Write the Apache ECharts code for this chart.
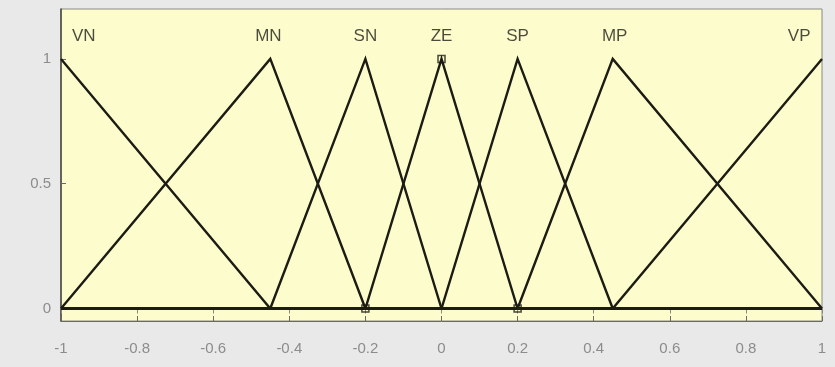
<!DOCTYPE html>
<html>
<head>
<meta charset="utf-8">
<script src="https://cdn.jsdelivr.net/npm/echarts@6/dist/echarts.min.js"></script>
<style>
  html, body { margin: 0; padding: 0; background: #e9e9e9; }
  #chart { width: 835px; height: 367px; }
</style>
</head>
<body>
<div id="chart"></div>
<script>
// Triangular membership functions over the universe [-1, 1]
const mfNames = ['VN', 'MN', 'SN', 'ZE', 'SP', 'MP', 'VP'];
const mfParams = [
  [-1.55, -1, -0.45],
  [-1, -0.45, -0.2],
  [-0.45, -0.2, 0],
  [-0.2, 0, 0.2],
  [0, 0.2, 0.45],
  [0.2, 0.45, 1],
  [0.45, 1, 1.55]
];
// Where each name is written above its peak
const labelX = [-0.94, -0.455, -0.2, 0, 0.2, 0.455, 0.94];
const labelY = 1.09;
// Small square markers on the plotted curves
const markerPoints = [[0, 1], [-0.2, 0], [0.2, 0]];
const xTicks = [-1, -0.8, -0.6, -0.4, -0.2, 0, 0.2, 0.4, 0.6, 0.8, 1];
const yTicks = [0, 0.5, 1];

// Evaluate a triangle on the universe: endpoints, corners and the zero baseline
function trimfPoints(p) {
  const [a, b, c] = p;
  const xs = [-1, a, b, c, 1].filter(v => v >= -1 && v <= 1);
  const uniq = Array.from(new Set(xs)).sort((u, v) => u - v);
  return uniq.map(x => {
    let y;
    if (x <= a || x >= c) y = (x === b) ? 1 : 0;
    else if (x <= b) y = (x - a) / (b - a);
    else y = (c - x) / (c - b);
    return [x, y];
  });
}

const lineSeries = mfParams.map((p, i) => ({
  name: mfNames[i],
  type: 'line',
  data: trimfPoints(p),
  showSymbol: false,
  lineStyle: { color: '#1c1c14', width: 2.4, join: 'miter' },
  silent: true,
  z: 3
}));

const chart = echarts.init(document.getElementById('chart'));
chart.setOption({
  animation: false,
  backgroundColor: '#e9e9e9',
  grid: {
    left: 61, right: 13, top: 9, bottom: 46,
    show: true,
    backgroundColor: '#fdfccd',
    borderColor: '#8a8a80',
    borderWidth: 1
  },
  xAxis: [{
    type: 'value', min: -1, max: 1, interval: 0.2,
    axisLine: { show: true, onZero: false, lineStyle: { color: '#6a6a60', width: 1 } },
    axisTick: { show: true, inside: true, length: 5, lineStyle: { color: '#6a6a60' } },
    splitLine: { show: false },
    axisLabel: {
      margin: 20, color: '#8c8c8c', fontSize: 15, fontFamily: 'Liberation Sans, Arial, sans-serif',
      formatter: v => String(Math.round(v * 10) / 10)
    }
  }, {
    type: 'value', min: -1, max: 1, interval: 0.2, position: 'top',
    axisLine: { show: true, lineStyle: { color: '#8a8a80' } },
    axisTick: { show: true, inside: true, length: 5, lineStyle: { color: '#8a8a80' } },
    axisLabel: { show: false },
    splitLine: { show: false }
  }],
  yAxis: [{
    type: 'value', min: -0.05, max: 1.2,
    axisLine: { show: true, onZero: false, lineStyle: { color: '#44443c', width: 1.5 } },
    axisTick: { show: true, inside: true, length: 5, customValues: yTicks, lineStyle: { color: '#6a6a60' } },
    splitLine: { show: false },
    axisLabel: {
      customValues: yTicks, margin: 10, color: '#8c8c8c', fontSize: 15,
      fontFamily: 'Liberation Sans, Arial, sans-serif',
      formatter: v => String(v)
    }
  }],
  series: lineSeries.concat([{
    type: 'scatter',
    data: markerPoints,
    symbol: 'rect',
    symbolSize: 7,
    itemStyle: { color: 'rgba(0,0,0,0)', borderColor: '#1c1c14', borderWidth: 1.5 },
    silent: true,
    z: 4
  }, {
    type: 'scatter',
    data: labelX.map((x, i) => ({ value: [x, labelY], name: mfNames[i] })),
    symbolSize: 0,
    silent: true,
    label: {
      show: true, position: 'inside', formatter: p => p.name,
      color: '#1e1e18', fontSize: 17, fontFamily: 'Liberation Sans, Arial, sans-serif'
    },
    z: 5
  }])
});
</script>
</body>
</html>
